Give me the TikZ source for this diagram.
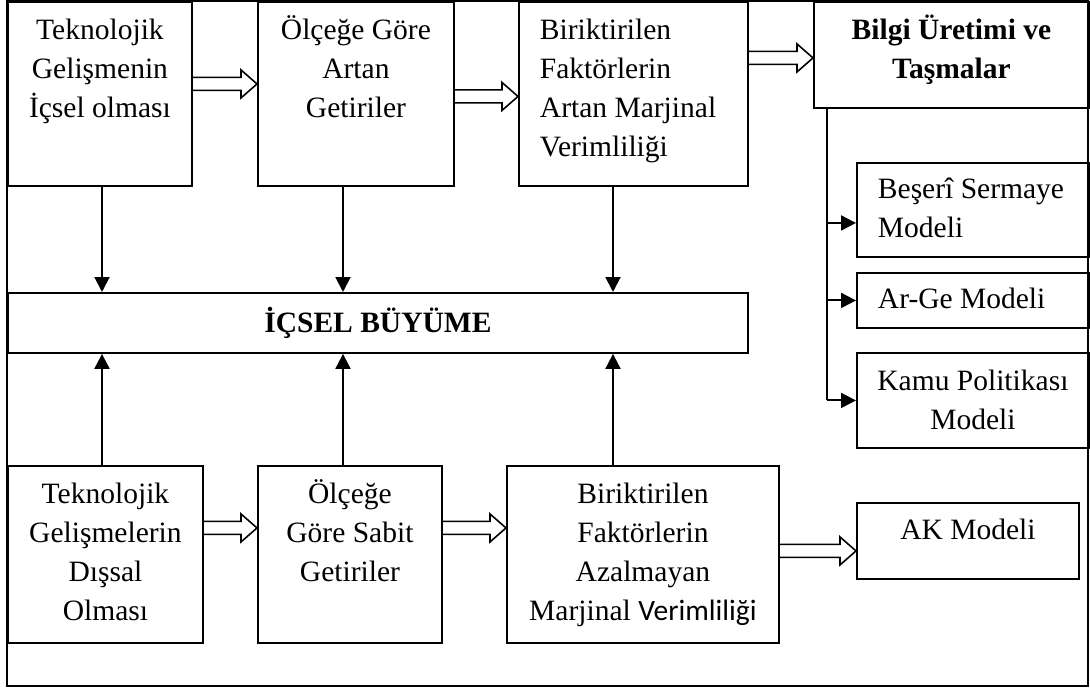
\documentclass[tikz,border=0pt]{standalone}
\usepackage{fontspec}
\setmainfont{Liberation Serif}
\newfontfamily\calibri{Carlito}
\usetikzlibrary{arrows.meta,calc}

\begin{document}
\begin{tikzpicture}[x=0.02cm,y=-0.02cm,
	font=\fontsize{16.8}{22.1}\selectfont,
	kutu/.style={draw,line width=1.1pt,inner sep=0pt,anchor=north west,align=flush center},
	kalin/.style={font=\fontsize{16.8}{22.1}\selectfont\bfseries},
	ok/.style={line width=1.1pt,-{Triangle[length=0.3cm,width=0.3cm]}},
	acik/.style={line width=0.9pt,to path={let \p1=(\tikztostart),\p2=(\tikztotarget) in
		(\x1,\y1+0.13cm) -- (\x2-0.32cm,\y1+0.13cm) -- (\x2-0.32cm,\y1+0.28cm) -- (\x2,\y1)
		-- (\x2-0.32cm,\y1-0.28cm) -- (\x2-0.32cm,\y1-0.13cm) -- (\x1,\y1-0.13cm)}}]
			\useasboundingbox (0,0) rectangle (1090,689);
			%CERCEVE
			\draw[line width=0.9pt] (7,1) rectangle (1088,686);
			%UST SIRA
			\node[kutu,text width=3.68cm,text height=0.76cm,text depth=2.92cm] (b1) at (7,1) {Teknolojik\\Gelişmenin\\İçsel olması};
			\node[kutu,text width=3.92cm,text height=0.76cm,text depth=2.92cm] (b2) at (257,1) {Ölçeğe Göre\\Artan\\Getiriler};
			\node[kutu,align=flush left,inner xsep=0.42cm,text width=3.74cm,text height=0.76cm,text depth=2.92cm] (b3) at (518,1) {Biriktirilen\\Faktörlerin\\Artan Marjinal\\Verimliliği};
			\node[kutu,kalin,text width=5.5cm,text height=0.76cm,text depth=1.36cm] (b4) at (813,1) {Bilgi Üretimi ve\\Taşmalar};
			%ICSEL BUYUME
			\node[kutu,kalin,minimum width=14.8cm,minimum height=1.2cm] (merkez) at (7,292) {İÇSEL BÜYÜME};
			%SAG TARAF
			\node[kutu,align=flush left,inner xsep=0.42cm,text width=3.8cm,text height=0.72cm,text depth=1.16cm] (bs) at (856,162) {Beşerî Sermaye\\Modeli};
			\node[kutu,align=flush left,inner xsep=0.42cm,text width=3.8cm,text height=0.72cm,text depth=0.38cm] (arge) at (856,272) {Ar-Ge Modeli};
			\node[kutu,text width=4.64cm,text height=0.76cm,text depth=1.14cm] (kamu) at (856,352) {Kamu Politikası\\Modeli};
			%ALT SIRA
			\node[kutu,text width=3.9cm,text height=0.76cm,text depth=2.78cm] (b5) at (7,465) {Teknolojik\\Gelişmelerin\\Dışsal\\Olması};
			\node[kutu,text width=3.68cm,text height=0.76cm,text depth=2.78cm] (b6) at (257,465) {Ölçeğe\\Göre Sabit\\Getiriler};
			\node[kutu,text width=5.44cm,text height=0.76cm,text depth=2.78cm] (b7) at (506,465) {Biriktirilen\\Faktörlerin\\Azalmayan\\Marjinal {\calibri Verimliliği}};
			\node[kutu,text width=4.44cm,text height=0.74cm,text depth=0.78cm] (ak) at (856,502) {AK Modeli};
			%DIKEY OKLAR
			\coordinate (k1) at (102,0);
			\coordinate (k2) at (343,0);
			\coordinate (k3) at (613,0);
			\foreach \u/\a in {b1/k1,b2/k2,b3/k3}
				\draw[ok] (\u.south -| \a) -- (merkez.north -| \a);
			\foreach \u/\a in {b5/k1,b6/k2,b7/k3}
				\draw[ok] (\u.north -| \a) -- (merkez.south -| \a);
			%ACIK OKLAR
			\draw[acik] ([yshift=0.2cm]b1.east) to (b2.west);
			\draw[acik] ([yshift=-0.05cm]b2.east) to (b3.west);
			\draw[acik] ([yshift=0.72cm]b3.east) to (b4.west);
			\draw[acik] ([yshift=0.53cm]b5.east) to (b6.west);
			\draw[acik] ([yshift=0.53cm]b6.east) to (b7.west);
			\draw[acik] ([yshift=0.07cm]b7.east) to (ak.west);
			%KOL
			\coordinate (kol) at ([xshift=0.28cm]b4.south west);
			\coordinate (bsk) at ([yshift=-0.26cm]bs.west);
			\draw[line width=1.1pt] (kol) -- (kol |- kamu.west);
			\draw[ok] (kol |- bsk) -- (bsk);
			\draw[ok] (kol |- arge.west) -- (arge.west);
			\draw[ok] (kol |- kamu.west) -- (kamu.west);
\end{tikzpicture}
\end{document}
